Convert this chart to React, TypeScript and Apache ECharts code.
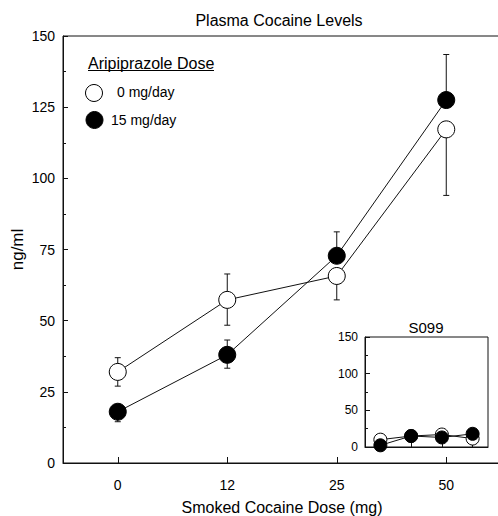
import React, { useEffect, useRef } from "react";
import * as echarts from "echarts";

const categories = ["0", "12", "25", "50"];
const open0 = [32, 57.3, 65.7, 117.2];
const open0Low = [27, 48.4, 57.3, 94];
const open0High = [37, 66.4, 65.7, 117.2];
const filled15 = [18, 38, 72.8, 127.5];
const filled15Low = [14.5, 33.3, 72.8, 127.5];
const filled15High = [18, 43.2, 81.2, 143.5];

const insetCategories = ["0", "12", "25", "50"];
const insetOpen = [10, 15, 17, 11.5];
const insetFilled = [2.3, 15, 13, 18];

const mainYTicks = [0, 25, 50, 75, 100, 125, 150];
const insetYTicks = [0, 50, 100, 150];

const FONT = "Liberation Sans, Arial, Helvetica, sans-serif";
const INK = "#111";

function errRender(params: any, api: any) {
  const x = api.value(0);
  const v = api.value(1);
  const lo = api.value(2);
  const hi = api.value(3);
  const pLo = api.coord([x, lo]);
  const pHi = api.coord([x, hi]);
  const cap = 3;
  const children: any[] = [];
  if (hi > lo) {
    children.push({
      type: "line",
      shape: { x1: pLo[0], y1: pLo[1], x2: pHi[0], y2: pHi[1] },
      style: { stroke: INK, lineWidth: 1 },
    });
  }
  if (lo < v) {
    children.push({
      type: "line",
      shape: { x1: pLo[0] - cap, y1: pLo[1], x2: pLo[0] + cap, y2: pLo[1] },
      style: { stroke: INK, lineWidth: 1 },
    });
  }
  if (hi > v) {
    children.push({
      type: "line",
      shape: { x1: pHi[0] - cap, y1: pHi[1], x2: pHi[0] + cap, y2: pHi[1] },
      style: { stroke: INK, lineWidth: 1 },
    });
  }
  return { type: "group", children };
}

export default function App() {
  const ref = useRef<HTMLDivElement>(null);
  useEffect(() => {
    if (!ref.current) return;
    const chart = echarts.init(ref.current, null, { renderer: "svg" });
    const axisLine = { show: true, lineStyle: { color: INK, width: 1 } };
    const option: any = {
      animation: false,
      backgroundColor: "#fff",
      textStyle: { fontFamily: FONT, color: "#000" },
      grid: [
        {
          left: 63,
          top: 36,
          width: 438,
          height: 427,
          containLabel: false,
          outerBoundsMode: "none",
          show: true,
          borderColor: INK,
          borderWidth: 1,
          backgroundColor: "transparent",
        },
        {
          left: 365,
          top: 337,
          width: 123,
          height: 110,
          containLabel: false,
          outerBoundsMode: "none",
          show: true,
          borderColor: INK,
          borderWidth: 1,
          backgroundColor: "#fff",
          z: 5,
        },
      ],
      xAxis: [
        {
          type: "category",
          gridIndex: 0,
          data: categories,
          boundaryGap: true,
          name: "Smoked Cocaine Dose (mg)",
          nameLocation: "middle",
          nameGap: 36,
          nameMoveOverlap: false,
          nameTextStyle: { fontSize: 16, color: "#000", fontFamily: FONT },
          axisLine,
          axisTick: { show: true, inside: true, length: 6, alignWithLabel: true, lineStyle: { color: INK } },
          axisLabel: { fontSize: 14, color: "#000", margin: 15, fontFamily: FONT },
          splitLine: { show: false },
        },
        {
          type: "category",
          gridIndex: 1,
          data: insetCategories,
          boundaryGap: true,
          axisLine,
          axisTick: { show: true, inside: true, length: 5, alignWithLabel: true, lineStyle: { color: INK } },
          axisLabel: { show: false },
          splitLine: { show: false },
          z: 6,
        },
      ],
      yAxis: [
        {
          type: "value",
          gridIndex: 0,
          min: mainYTicks[0],
          max: mainYTicks[mainYTicks.length - 1],
          interval: 25,
          name: "ng/ml",
          nameLocation: "middle",
          nameGap: 37,
          nameMoveOverlap: false,
          nameTextStyle: { fontSize: 17, color: "#000", fontFamily: FONT },
          axisLine,
          axisTick: { show: true, inside: true, length: 5, lineStyle: { color: INK } },
          minorTick: { show: true, splitNumber: 2, length: 3, lineStyle: { color: INK } },
          axisLabel: { fontSize: 14, color: "#000", margin: 8, fontFamily: FONT },
          splitLine: { show: false },
        },
        {
          type: "value",
          gridIndex: 1,
          min: insetYTicks[0],
          max: insetYTicks[insetYTicks.length - 1],
          interval: 50,
          axisLine,
          axisTick: { show: true, inside: true, length: 5, lineStyle: { color: INK } },
          minorTick: { show: true, splitNumber: 2, length: 3, lineStyle: { color: INK } },
          axisLabel: { fontSize: 12, color: "#000", margin: 7, fontFamily: FONT },
          splitLine: { show: false },
          z: 6,
        },
      ],
      graphic: [
        {
          type: "text",
          x: 279,
          y: 20,
          style: { text: "Plasma Cocaine Levels", font: `16px ${FONT}`, fill: "#000", textAlign: "center", textVerticalAlign: "middle" },
        },
        {
          type: "text",
          x: 88,
          y: 63,
          style: { text: "Aripiprazole Dose", font: `16px ${FONT}`, fill: "#000", textAlign: "left", textVerticalAlign: "middle" },
        },
        {
          type: "line",
          shape: { x1: 88, y1: 70.5, x2: 214, y2: 70.5 },
          style: { stroke: "#000", lineWidth: 1 },
        },
        {
          type: "circle",
          shape: { cx: 94, cy: 93, r: 8.5 },
          style: { fill: "#fff", stroke: "#000", lineWidth: 1 },
        },
        {
          type: "text",
          x: 117,
          y: 92,
          style: { text: "0 mg/day", font: `14px ${FONT}`, fill: "#000", textAlign: "left", textVerticalAlign: "middle" },
        },
        {
          type: "circle",
          shape: { cx: 94.5, cy: 120, r: 8.5 },
          style: { fill: "#000", stroke: "#000", lineWidth: 1 },
        },
        {
          type: "text",
          x: 111,
          y: 120,
          style: { text: "15 mg/day", font: `14px ${FONT}`, fill: "#000", textAlign: "left", textVerticalAlign: "middle" },
        },
        {
          type: "text",
          x: 426,
          y: 327,
          style: { text: "S099", font: `15px ${FONT}`, fill: "#000", textAlign: "center", textVerticalAlign: "middle" },
        },
      ],
      series: [
        {
          type: "custom",
          name: "0 mg/day error",
          xAxisIndex: 0,
          yAxisIndex: 0,
          z: 1,
          renderItem: errRender,
          data: categories.map((_, i) => [i, open0[i], open0Low[i], open0High[i]]),
        },
        {
          type: "custom",
          name: "15 mg/day error",
          xAxisIndex: 0,
          yAxisIndex: 0,
          z: 1,
          renderItem: errRender,
          data: categories.map((_, i) => [i, filled15[i], filled15Low[i], filled15High[i]]),
        },
        {
          type: "line",
          name: "0 mg/day",
          xAxisIndex: 0,
          yAxisIndex: 0,
          z: 2,
          data: open0,
          symbol: "circle",
          symbolSize: 17,
          lineStyle: { color: INK, width: 1 },
          itemStyle: { color: "#fff", borderColor: "#000", borderWidth: 1 },
        },
        {
          type: "line",
          name: "15 mg/day",
          xAxisIndex: 0,
          yAxisIndex: 0,
          z: 3,
          data: filled15,
          symbol: "circle",
          symbolSize: 17,
          lineStyle: { color: INK, width: 1 },
          itemStyle: { color: "#000", borderColor: "#000", borderWidth: 1 },
        },
        {
          type: "line",
          name: "S099 0 mg/day",
          xAxisIndex: 1,
          yAxisIndex: 1,
          z: 7,
          data: insetOpen,
          symbol: "circle",
          symbolSize: 13,
          lineStyle: { color: INK, width: 1 },
          itemStyle: { color: "#fff", borderColor: "#000", borderWidth: 1 },
        },
        {
          type: "line",
          name: "S099 15 mg/day",
          xAxisIndex: 1,
          yAxisIndex: 1,
          z: 8,
          data: insetFilled,
          symbol: "circle",
          symbolSize: 13,
          lineStyle: { color: INK, width: 1 },
          itemStyle: { color: "#000", borderColor: "#000", borderWidth: 1 },
        },
      ],
    };
    chart.setOption(option);
    return () => chart.dispose();
  }, []);
  return (
    <div
      ref={ref}
      style={{ position: "fixed", left: 0, top: 0, width: 498, height: 516, background: "#fff" }}
    />
  );
}
